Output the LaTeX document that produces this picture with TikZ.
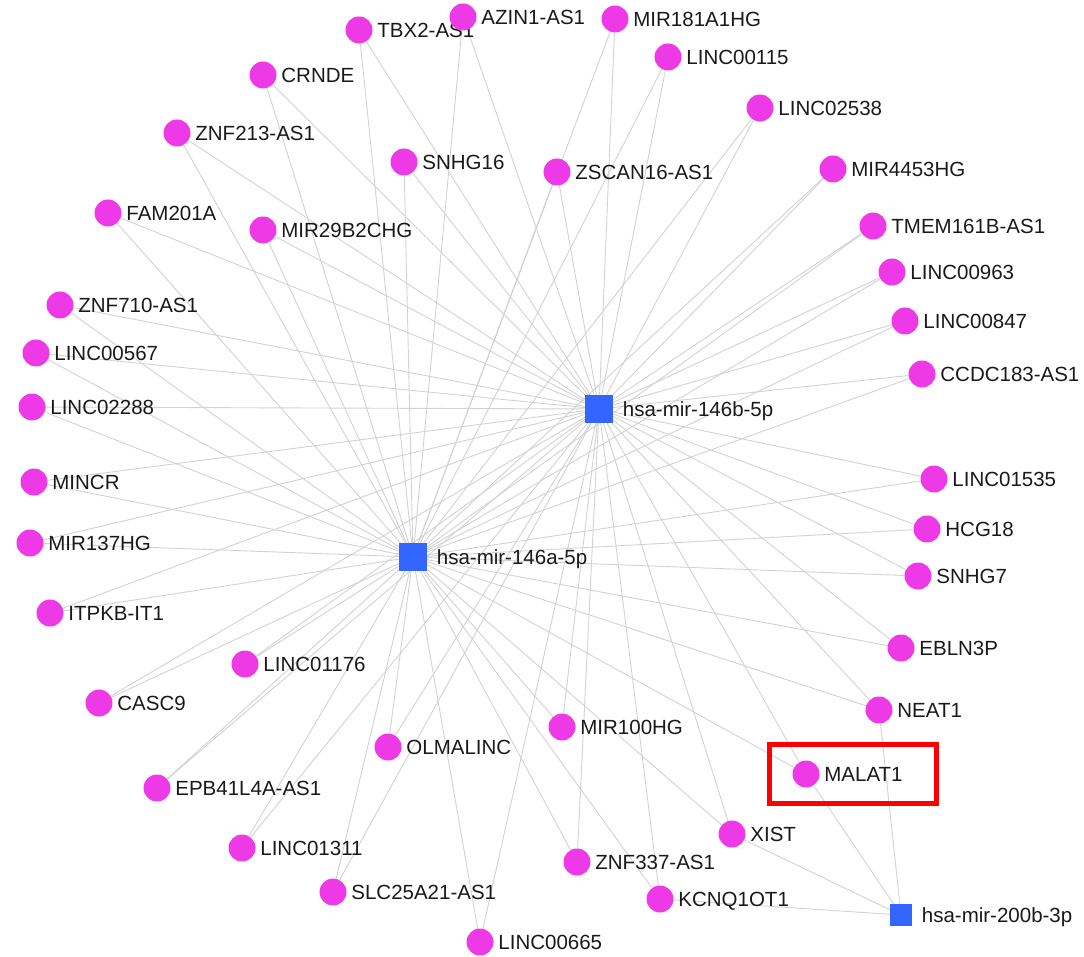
\documentclass[tikz,border=0pt]{standalone}
\usepackage{fontspec}
\setmainfont{Liberation Sans}
\usetikzlibrary{positioning}

\definecolor{lncpink}{RGB}{238,58,230}
\definecolor{mirblue}{RGB}{51,102,255}
\definecolor{edgegray}{RGB}{210,210,210}
\definecolor{hired}{RGB}{255,0,0}

\pgfdeclarelayer{bg}
\pgfsetlayers{bg,main}

\begin{document}
\begin{tikzpicture}
			[x=1pt,y=-1pt,
			 lnc/.style={circle,fill=lncpink,inner sep=0pt,minimum size=27pt},
			 mir/.style={rectangle,fill=mirblue,inner sep=0pt,minimum size=28pt},
			 lbl/.style={inner sep=0pt,xshift=4.5pt,text height=14.7pt,text depth=0pt,
			   font=\fontsize{20.5}{24}\selectfont,text=black!90},
			 hublbl/.style={lbl,xshift=5pt},
			 connect/.style={draw=edgegray,line width=0.9pt},
			 hilite/.style={draw=hired,line width=5pt,inner sep=0pt}]
			\useasboundingbox (0,0) rectangle (1084,957);

			% mirna hubs
			\node (mira) [mir,label={[hublbl]right:hsa-mir-146a-5p}] at (413,557) {};
			\node (mirb) [mir,label={[hublbl]right:hsa-mir-146b-5p}] at (599,409) {};
			\node (mirc) [mir,minimum size=22pt,label={[hublbl]right:hsa-mir-200b-3p}] at (901,915) {};

			% lncrnas, top
			\node (tbx2) [lnc,label={[lbl]right:TBX2-AS1}] at (359,30) {};
			\node (azin1) [lnc,label={[lbl]right:AZIN1-AS1}] at (463,17) {};
			\node (mir181) [lnc,label={[lbl]right:MIR181A1HG}] at (615,19) {};
			\node (l00115) [lnc,label={[lbl]right:LINC00115}] at (668,57) {};
			\node (l02538) [lnc,label={[lbl]right:LINC02538}] at (760,108) {};
			\node (crnde) [lnc,label={[lbl]right:CRNDE}] at (263,75) {};
			\node (znf213) [lnc,label={[lbl]right:ZNF213-AS1}] at (177,133) {};
			\node (snhg16) [lnc,label={[lbl]right:SNHG16}] at (404,162) {};
			\node (zscan16) [lnc,label={[lbl]right:ZSCAN16-AS1}] at (557,172) {};
			\node (mir4453) [lnc,label={[lbl]right:MIR4453HG}] at (833,169) {};
			\node (fam201a) [lnc,label={[lbl]right:FAM201A}] at (108,213) {};
			\node (mir29b2) [lnc,label={[lbl]right:MIR29B2CHG}] at (263,230) {};
			\node (tmem161b) [lnc,label={[lbl]right:TMEM161B-AS1}] at (873,226) {};
			\node (l00963) [lnc,label={[lbl]right:LINC00963}] at (892,272) {};

			% lncrnas, left and right
			\node (znf710) [lnc,label={[lbl]right:ZNF710-AS1}] at (60,305) {};
			\node (l00847) [lnc,label={[lbl]right:LINC00847}] at (905,321) {};
			\node (l00567) [lnc,label={[lbl]right:LINC00567}] at (36,353) {};
			\node (l02288) [lnc,label={[lbl]right:LINC02288}] at (32,407) {};
			\node (ccdc183) [lnc,label={[lbl]right:CCDC183-AS1}] at (922,374) {};
			\node (mincr) [lnc,label={[lbl]right:MINCR}] at (34,482) {};
			\node (l01535) [lnc,label={[lbl]right:LINC01535}] at (934,479) {};
			\node (hcg18) [lnc,label={[lbl]right:HCG18}] at (927,529) {};
			\node (mir137) [lnc,label={[lbl]right:MIR137HG}] at (30,543) {};
			\node (snhg7) [lnc,label={[lbl]right:SNHG7}] at (918,576) {};
			\node (itpkb) [lnc,label={[lbl]right:ITPKB-IT1}] at (50,613) {};
			\node (ebln3p) [lnc,label={[lbl]right:EBLN3P}] at (901,648) {};

			% lncrnas, bottom
			\node (l01176) [lnc,label={[lbl]right:LINC01176}] at (245,664) {};
			\node (casc9) [lnc,label={[lbl]right:CASC9}] at (99,703) {};
			\node (neat1) [lnc,label={[lbl]right:NEAT1}] at (879,710) {};
			\node (mir100) [lnc,label={[lbl]right:MIR100HG}] at (562,727) {};
			\node (olmalinc) [lnc,label={[lbl]right:OLMALINC}] at (388,747) {};
			\node (malat1) [lnc,label={[lbl]right:MALAT1}] at (806,774) {};
			\node (epb41) [lnc,label={[lbl]right:EPB41L4A-AS1}] at (157,788) {};
			\node (xist) [lnc,label={[lbl]right:XIST}] at (732,834) {};
			\node (l01311) [lnc,label={[lbl]right:LINC01311}] at (242,848) {};
			\node (znf337) [lnc,label={[lbl]right:ZNF337-AS1}] at (577,862) {};
			\node (slc25) [lnc,label={[lbl]right:SLC25A21-AS1}] at (333,892) {};
			\node (kcnq1) [lnc,label={[lbl]right:KCNQ1OT1}] at (660,899) {};
			\node (l00665) [lnc,label={[lbl]right:LINC00665}] at (480,942) {};

			\node (focus) [hilite,minimum width=167pt,minimum height=59pt] at (853,774) {};

			\begin{pgfonlayer}{bg}
			\path (tbx2) edge [connect] (mira) edge [connect] (mirb);
			\path (azin1) edge [connect] (mira) edge [connect] (mirb);
			\path (mir181) edge [connect] (mira) edge [connect] (mirb);
			\path (l00115) edge [connect] (mira) edge [connect] (mirb);
			\path (l02538) edge [connect] (mira) edge [connect] (mirb);
			\path (crnde) edge [connect] (mira) edge [connect] (mirb);
			\path (znf213) edge [connect] (mira) edge [connect] (mirb);
			\path (snhg16) edge [connect] (mira) edge [connect] (mirb);
			\path (zscan16) edge [connect] (mira) edge [connect] (mirb);
			\path (mir4453) edge [connect] (mira) edge [connect] (mirb);
			\path (fam201a) edge [connect] (mira) edge [connect] (mirb);
			\path (mir29b2) edge [connect] (mira) edge [connect] (mirb);
			\path (tmem161b) edge [connect] (mira) edge [connect] (mirb);
			\path (l00963) edge [connect] (mira) edge [connect] (mirb);
			\path (znf710) edge [connect] (mira) edge [connect] (mirb);
			\path (l00847) edge [connect] (mira) edge [connect] (mirb);
			\path (l00567) edge [connect] (mira) edge [connect] (mirb);
			\path (l02288) edge [connect] (mira) edge [connect] (mirb);
			\path (ccdc183) edge [connect] (mira) edge [connect] (mirb);
			\path (mincr) edge [connect] (mira) edge [connect] (mirb);
			\path (l01535) edge [connect] (mira) edge [connect] (mirb);
			\path (hcg18) edge [connect] (mira) edge [connect] (mirb);
			\path (mir137) edge [connect] (mira) edge [connect] (mirb);
			\path (snhg7) edge [connect] (mira) edge [connect] (mirb);
			\path (itpkb) edge [connect] (mira) edge [connect] (mirb);
			\path (ebln3p) edge [connect] (mira) edge [connect] (mirb);
			\path (l01176) edge [connect] (mira) edge [connect] (mirb);
			\path (casc9) edge [connect] (mira) edge [connect] (mirb);
			\path (neat1) edge [connect] (mira) edge [connect] (mirb)
			  edge [connect] (mirc);
			\path (mir100) edge [connect] (mira) edge [connect] (mirb);
			\path (olmalinc) edge [connect] (mira) edge [connect] (mirb);
			\path (malat1) edge [connect] (mira) edge [connect] (mirb)
			  edge [connect] (mirc);
			\path (epb41) edge [connect] (mira) edge [connect] (mirb);
			\path (xist) edge [connect] (mira) edge [connect] (mirb)
			  edge [connect] (mirc);
			\path (l01311) edge [connect] (mira) edge [connect] (mirb);
			\path (znf337) edge [connect] (mira) edge [connect] (mirb);
			\path (slc25) edge [connect] (mira) edge [connect] (mirb);
			\path (kcnq1) edge [connect] (mira) edge [connect] (mirb)
			  edge [connect] (mirc);
			\path (l00665) edge [connect] (mira) edge [connect] (mirb);
			\end{pgfonlayer}
	  \end{tikzpicture}
\end{document}
